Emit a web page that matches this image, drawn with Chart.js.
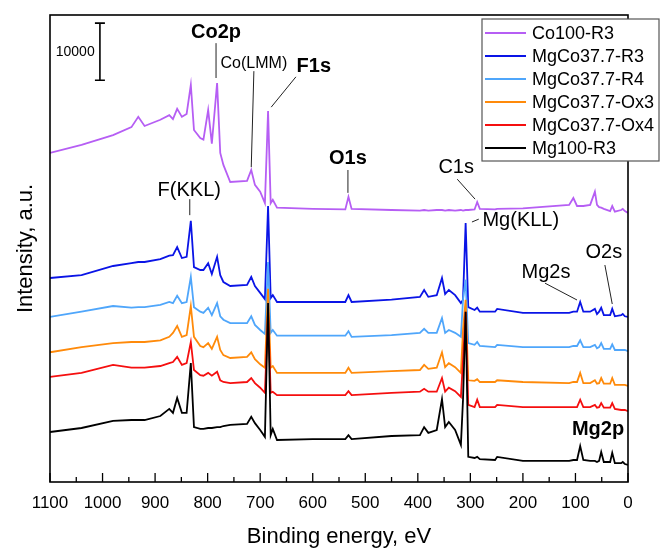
<!DOCTYPE html>
<html>
<head>
<meta charset="utf-8">
<script src="https://cdn.jsdelivr.net/npm/chart.js@4.4.0/dist/chart.umd.min.js"></script>
<style>
  body { margin: 0; background: #fff; }
  canvas { display: block; }
</style>
</head>
<body>
<canvas id="xps" width="661" height="550"></canvas>
<script>
// binding energy grid (eV), shared by all spectra
const energy = [1100, 1040, 980, 945, 932, 920, 890, 873, 866, 858,
  849, 840, 832, 826, 814, 808, 799, 792, 782, 776,
  770, 757, 725, 717, 710, 700, 691, 685, 680, 676,
  668, 600, 538, 532, 526, 450, 396, 388, 380, 364,
  354, 348, 341, 329, 318, 314, 309, 304, 292, 287,
  282, 253, 249, 200, 112, 104, 97, 91, 85, 72,
  63, 59, 55, 51, 46, 34, 30, 25, 13, 10,
  6, 0]

// intensities (counts, spectra already offset as in the figure)
const co100R3 = [57600, 59000, 60700, 62100, 63900, 62300, 63400, 64200, 63500, 65300,
  63900, 64400, 69500, 61600, 60200, 59900, 65100, 59200, 69800, 57600,
  55500, 52500, 52700, 54600, 52000, 50800, 48800, 64900, 48800, 49400,
  48000, 47800, 47700, 49900, 47800, 47600, 47500, 47600, 47500, 47600,
  47600, 47500, 47600, 47500, 47600, 47500, 47600, 47600, 47700, 49000,
  47800, 47700, 47800, 47900, 48500, 49700, 48300, 48300, 48300, 48500,
  50800, 48500, 48100, 48000, 47800, 47400, 48300, 47300, 47600, 47800,
  47400, 47100]

const mgCoR3 = [35700, 36200, 37800, 38300, 38500, 38500, 39000, 39600, 39700, 41100,
  39200, 39400, 45700, 37600, 37100, 37100, 38300, 36400, 39400, 36200,
  35000, 34300, 34500, 35900, 34300, 33100, 32000, 48300, 32200, 32700,
  31500, 31500, 31500, 32700, 31500, 31900, 32400, 33600, 32400, 32700,
  35700, 32900, 33600, 32700, 31300, 31900, 45300, 30600, 30100, 30500,
  29800, 29800, 30300, 29600, 29600, 29800, 29800, 31500, 29800, 29800,
  30300, 29400, 29800, 30500, 29200, 29200, 30300, 29000, 29200, 29400,
  29000, 28900]

const mgCoR4 = [28900, 29800, 30800, 30500, 30600, 30600, 31000, 31500, 31300, 32600,
  31300, 31500, 35900, 30600, 29800, 29600, 30500, 29200, 31300, 29000,
  28400, 27800, 27800, 29000, 27500, 26600, 25900, 38500, 26100, 26600,
  25600, 25600, 25600, 26400, 25400, 25700, 26100, 26800, 26100, 26100,
  28700, 26100, 26600, 26100, 25400, 31900, 35400, 24300, 24000, 24500,
  23800, 23600, 24000, 23600, 23600, 23800, 23800, 24800, 23600, 23600,
  24000, 23400, 23600, 24300, 23300, 23300, 24100, 23100, 23100, 23100,
  23100, 22900]

const mgCoOx3 = [22700, 23600, 24300, 24500, 24500, 24500, 24800, 25400, 26100, 27300,
  25400, 25700, 30800, 25400, 23800, 23600, 24300, 23300, 25400, 23100,
  22200, 21700, 21900, 22700, 21500, 20600, 20000, 33800, 20000, 20300,
  19100, 19100, 19100, 20000, 19100, 19400, 19600, 20500, 19800, 20000,
  22700, 20100, 20800, 20100, 19100, 26600, 31900, 17800, 17700, 18000,
  17500, 17500, 17800, 17500, 17300, 17500, 17500, 19100, 17300, 17300,
  17800, 17200, 17300, 18200, 17200, 17200, 18200, 17000, 17000, 17000,
  17000, 16800]

const mgCoOx4 = [18400, 19100, 20500, 20000, 20000, 20000, 20300, 20800, 21000, 21900,
  20500, 20800, 24500, 19600, 18700, 18600, 19100, 18600, 19300, 17800,
  17500, 17300, 17500, 18200, 17300, 16500, 15600, 30100, 15600, 15800,
  15200, 15200, 15200, 15900, 15200, 15600, 15800, 16300, 15800, 15800,
  18200, 15800, 16500, 15900, 14900, 21400, 29800, 13500, 13100, 14400,
  13100, 13100, 13500, 13100, 13100, 13100, 13100, 14400, 13100, 13100,
  13500, 13000, 13100, 13800, 13000, 13000, 13800, 12800, 12600, 12600,
  12600, 12400]

const mg100R3 = [8750, 9450, 10700, 10850, 10850, 10850, 11550, 12800, 12100, 14700,
  12100, 12100, 20800, 9600, 9300, 9300, 9450, 9450, 9600, 9600,
  9800, 10000, 10150, 11400, 10300, 9100, 7900, 31300, 8200, 9300,
  7350, 7500, 7500, 8200, 7500, 8050, 8200, 9600, 8600, 9100,
  14500, 9600, 10500, 9100, 6500, 14400, 29800, 4400, 4200, 4400,
  4000, 3850, 4400, 3700, 3700, 3850, 3850, 6300, 3850, 3700,
  3700, 3500, 3700, 5250, 3500, 3500, 5100, 3300, 3300, 3500,
  3150, 3000]

const seriesNames = ['Co100-R3', 'MgCo37.7-R3', 'MgCo37.7-R4', 'MgCo37.7-Ox3', 'MgCo37.7-Ox4', 'Mg100-R3']
const seriesColors = ['#b65ef4', '#0a14e6', '#4fa6fb', '#ff8a0a', '#f50f0f', '#000000']
const seriesValues = [co100R3, mgCoR3, mgCoR4, mgCoOx3, mgCoOx4, mg100R3]

// peak labels: text, energy, intensity of text centre, bold, leader line [E1, I1, E2, I2]
const peakLabels = [
  ['Co2p', 784, 78600, true, [784, 76800, 784, 70700]],
  ['Co(LMM)', 712, 73300, false, [712, 71900, 717, 55100]],
  ['F1s', 598, 72800, true, [632, 70900, 679, 65600]],
  ['O1s', 533, 56700, true, [533, 54600, 533, 50600]],
  ['C1s', 327, 55100, false, [325, 53000, 291, 49500]],
  ['Mg(KLL)', 204, 45850, false, [297, 45500, 284, 46000]],
  ['F(KKL)', 835, 51100, false, [834, 49500, 834, 46700]],
  ['Mg2s', 156, 36750, false, [158, 34800, 97, 31850]],
  ['O2s', 46, 40250, false, [44, 37975, 30, 31150]],
  ['Mg2p', 57, 9275, true, null]
]

const fontFam = 'Arial, "Liberation Sans", sans-serif'

const decor = {
  id: 'decor',
  afterDraw(chart) {
    const ctx = chart.ctx
    const a = chart.chartArea
    const xs = chart.scales.x
    const ys = chart.scales.y
    ctx.save()
    // frame
    ctx.strokeStyle = '#000'
    ctx.lineWidth = 1.6
    ctx.strokeRect(a.left, a.top, a.right - a.left, a.bottom - a.top)
    // inward ticks on the energy axis
    ctx.lineWidth = 1.3
    for (let e = 0; e <= 1100; e += 50) {
      const px = xs.getPixelForValue(e)
      const len = e % 100 === 0 ? 9 : 5
      ctx.beginPath()
      ctx.moveTo(px, a.bottom)
      ctx.lineTo(px, a.bottom - len)
      ctx.stroke()
    }
    // scale bar 10000 counts
    const bx = xs.getPixelForValue(1005)
    const b1 = ys.getPixelForValue(70300)
    const b2 = ys.getPixelForValue(80300)
    ctx.lineWidth = 1.6
    ctx.beginPath()
    ctx.moveTo(bx, b1); ctx.lineTo(bx, b2)
    ctx.moveTo(bx - 5, b1); ctx.lineTo(bx + 5, b1)
    ctx.moveTo(bx - 5, b2); ctx.lineTo(bx + 5, b2)
    ctx.stroke()
    ctx.fillStyle = '#000'
    ctx.font = '14px ' + fontFam
    ctx.textAlign = 'center'
    ctx.textBaseline = 'middle'
    ctx.fillText('10000', xs.getPixelForValue(1052), (b1 + b2) / 2)
    // peak labels
    peakLabels.forEach(p => {
      const [txt, e, v, bold, lead] = p
      let size = txt === 'Co(LMM)' ? 16 : 20
      ctx.font = (bold ? 'bold ' : '') + size + 'px ' + fontFam
      ctx.fillStyle = '#000'
      ctx.fillText(txt, xs.getPixelForValue(e), ys.getPixelForValue(v))
      if (lead) {
        ctx.strokeStyle = '#222'
        ctx.lineWidth = 1
        ctx.beginPath()
        ctx.moveTo(xs.getPixelForValue(lead[0]), ys.getPixelForValue(lead[1]))
        ctx.lineTo(xs.getPixelForValue(lead[2]), ys.getPixelForValue(lead[3]))
        ctx.stroke()
      }
    })
    // legend box
    const lx = 482, ly = 19, lw = 177, lh = 142
    ctx.fillStyle = '#fff'
    ctx.fillRect(lx, ly, lw, lh)
    ctx.strokeStyle = '#555'
    ctx.lineWidth = 1.2
    ctx.strokeRect(lx, ly, lw, lh)
    ctx.font = '18px ' + fontFam
    ctx.textAlign = 'left'
    seriesNames.forEach((n, i) => {
      const yy = ly + 14 + i * 23
      ctx.strokeStyle = seriesColors[i]
      ctx.lineWidth = 2
      ctx.beginPath()
      ctx.moveTo(lx + 3, yy); ctx.lineTo(lx + 44, yy)
      ctx.stroke()
      ctx.fillStyle = '#000'
      ctx.fillText(n, lx + 50, yy + 1)
    })
    ctx.restore()
  }
}

const datasets = seriesNames.map((n, i) => ({
  label: n,
  data: energy.map((e, k) => ({ x: e, y: seriesValues[i][k] })),
  borderColor: seriesColors[i],
  borderWidth: 1.8,
  pointRadius: 0,
  tension: 0,
  fill: false,
  order: seriesNames.length - i
}))

new Chart(document.getElementById('xps'), {
  type: 'line',
  data: { datasets: datasets },
  options: {
    responsive: false,
    animation: false,
    layout: { padding: { top: 15, right: 33, left: 0, bottom: 0 } },
    plugins: { legend: { display: false }, tooltip: { enabled: false } },
    scales: {
      x: {
        type: 'linear',
        reverse: true,
        min: 0,
        max: 1100,
        grid: { display: false, drawTicks: false },
        border: { display: false },
        ticks: {
          stepSize: 100, padding: 11, color: '#000', font: { size: 17, family: fontFam },
          callback: v => String(v)
        },
        title: { display: true, text: 'Binding energy, eV', color: '#000', padding: 0, font: { size: 22, family: fontFam } },
        afterFit: s => { s.height = 68 }
      },
      y: {
        min: 0,
        max: 81725,
        grid: { display: false, drawTicks: false },
        border: { display: false },
        ticks: { display: false },
        title: { display: true, text: 'Intensity, a.u.', color: '#000', padding: { top: 13, bottom: 0 }, font: { size: 22, family: fontFam } },
        afterFit: s => { s.width = 50 }
      }
    }
  },
  plugins: [decor]
})
</script>
</body>
</html>
